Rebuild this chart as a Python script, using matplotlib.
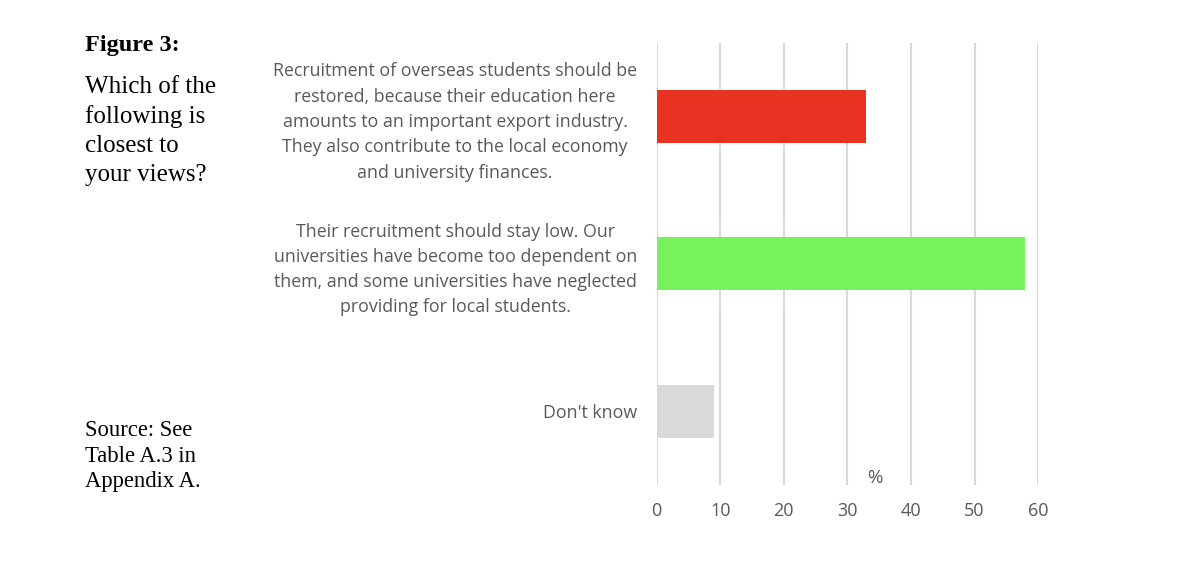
import matplotlib.pyplot as plt

# data
labels = [
    "Recruitment of overseas students should be\nrestored, because their education here\n"
    "amounts to an important export industry.\nThey also contribute to the local economy\n"
    "and university finances.",
    "Their recruitment should stay low. Our\nuniversities have become too dependent on\n"
    "them, and some universities have neglected\nproviding for local students.",
    "Don't know",
]
values = [33.0, 58.0, 9.1]
colors = ["#e83323", "#77f25c", "#d9d9d9"]
xticks = [0, 10, 20, 30, 40, 50, 60]

plt.rcParams['font.family'] = ['Open Sans', 'DejaVu Sans']

fig = plt.figure(figsize=(11.96, 5.68), dpi=100)
ax = fig.add_axes([0.549, 0.146, 0.319, 0.779])

ypos = list(range(len(values)))
ax.barh(ypos, values, height=0.36, color=colors, zorder=3)

ax.set_xlim(0, 60)
ax.set_ylim(2.5, -0.5)
ax.set_xticks(xticks)
ax.set_yticks(ypos)
ax.set_yticklabels(labels, multialignment='center', linespacing=1.52)
ax.tick_params(axis='both', length=0, labelsize=12.8, labelcolor='#595959')
ax.tick_params(axis='x', pad=12, labelsize=13)
ax.tick_params(axis='y', pad=14)

ax.grid(axis='x', color='#d9d9d9', linewidth=1.5, zorder=0)
for s in ax.spines.values():
    s.set_visible(False)

ax.text(0.572, 0.016, '%', transform=ax.transAxes, ha='center', va='center',
        fontsize=13.5, color='#595959')

# left-hand caption
serif = ['Liberation Serif', 'DejaVu Serif']
fig.text(85 / 1196, 1 - 45 / 568, "Figure 3:", family=serif, fontsize=17.5,
         fontweight='bold', va='center', ha='left')
fig.text(85 / 1196, 1 - 131 / 568, "Which of the\nfollowing is\nclosest to\nyour views?",
         family=serif, fontsize=18, va='center', ha='left', linespacing=1.39)
fig.text(85 / 1196, 1 - 456 / 568, "Source: See\nTable A.3 in\nAppendix A.",
         family=serif, fontsize=16.3, va='center', ha='left', linespacing=1.3)

fig.savefig('out.png', dpi=100)
